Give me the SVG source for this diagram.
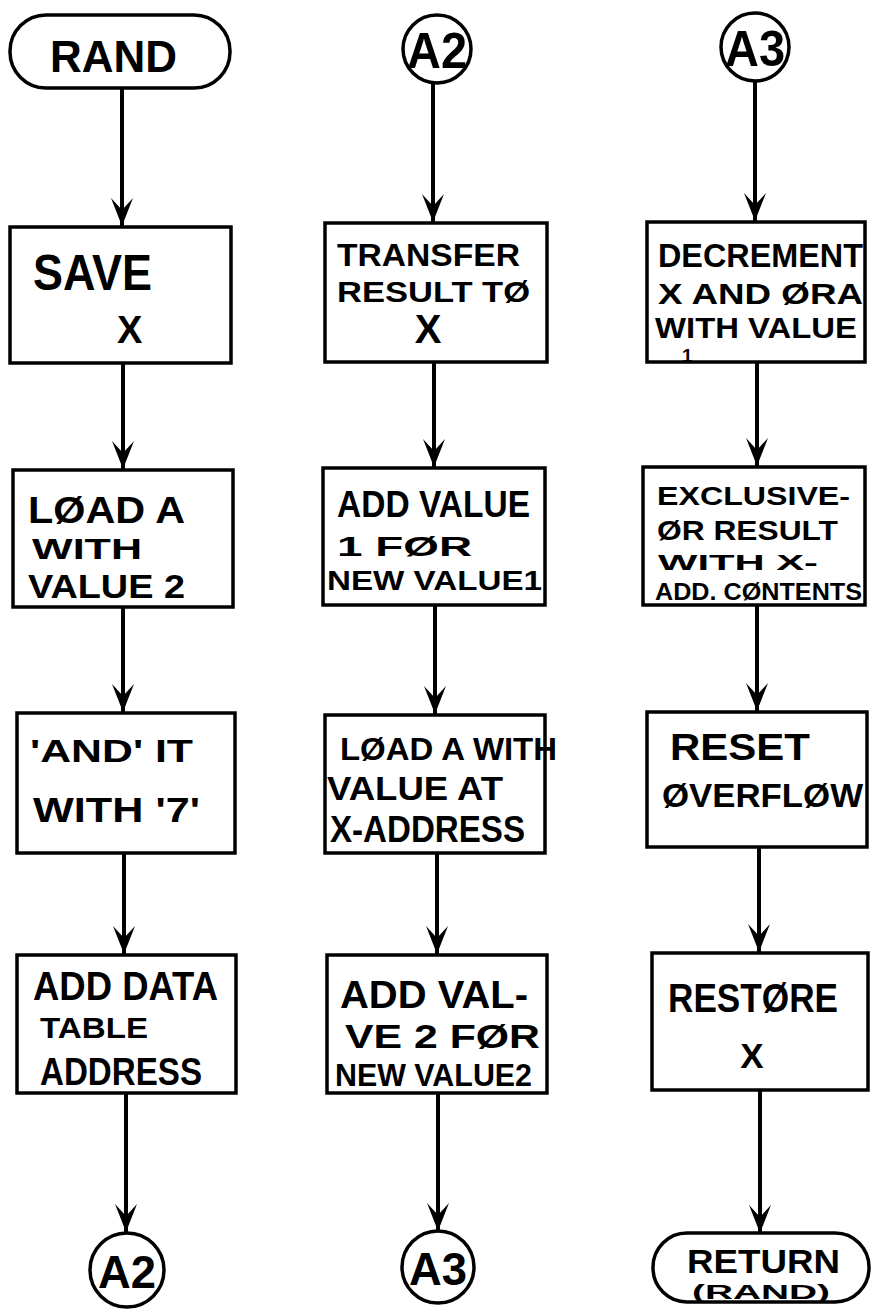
<svg xmlns="http://www.w3.org/2000/svg" width="872" height="1311" viewBox="0 0 872 1311">
<style>
  .box{fill:#fff;stroke:#000;stroke-width:3.5}
  .line{stroke:#000;stroke-width:4;fill:none}
  .t{font-family:"Liberation Sans",Arial,sans-serif;font-weight:bold;fill:#000}
  .c{text-anchor:middle}
</style>
<defs>
  <marker id="arr" markerUnits="userSpaceOnUse" markerWidth="32" markerHeight="26" viewBox="-30 -13 32 26" refX="0" refY="0" orient="auto" overflow="visible">
    <path d="M-28,-11 L0,0 L-28,11 L-16,0 Z" fill="#000"/>
  </marker>
</defs>
<rect width="872" height="1311" fill="#fff"/>
<g id="connectors">
  <line class="line" x1="122" y1="88" x2="122" y2="226" marker-end="url(#arr)"/>
  <line class="line" x1="123" y1="363" x2="123" y2="469" marker-end="url(#arr)"/>
  <line class="line" x1="123" y1="607" x2="123" y2="712" marker-end="url(#arr)"/>
  <line class="line" x1="124" y1="853" x2="124" y2="954" marker-end="url(#arr)"/>
  <line class="line" x1="126" y1="1093" x2="126" y2="1232" marker-end="url(#arr)"/>
  <line class="line" x1="433" y1="82" x2="433" y2="222" marker-end="url(#arr)"/>
  <line class="line" x1="434" y1="362" x2="434" y2="467" marker-end="url(#arr)"/>
  <line class="line" x1="435" y1="605" x2="435" y2="714" marker-end="url(#arr)"/>
  <line class="line" x1="437" y1="853" x2="437" y2="954" marker-end="url(#arr)"/>
  <line class="line" x1="438" y1="1093" x2="438" y2="1231" marker-end="url(#arr)"/>
  <line class="line" x1="755" y1="80" x2="755" y2="221" marker-end="url(#arr)"/>
  <line class="line" x1="757" y1="362" x2="757" y2="466" marker-end="url(#arr)"/>
  <line class="line" x1="757" y1="605" x2="757" y2="711" marker-end="url(#arr)"/>
  <line class="line" x1="759" y1="847" x2="759" y2="952" marker-end="url(#arr)"/>
  <line class="line" x1="760" y1="1090" x2="760" y2="1233" marker-end="url(#arr)"/>
</g>
<g id="rand">
  <rect class="box" x="10" y="15" width="220" height="73" rx="36" ry="36"/>
  <text class="t" x="50" y="72" font-size="44" textLength="127" lengthAdjust="spacingAndGlyphs">RAND</text>
</g>
<g id="save-x">
  <rect class="box" x="10" y="227" width="221" height="136"/>
  <text class="t" x="33" y="290" font-size="50" textLength="119" lengthAdjust="spacingAndGlyphs">SAVE</text>
  <text class="t" x="117" y="343" font-size="38">X</text>
</g>
<g id="load-a">
  <rect class="box" x="13" y="470" width="220" height="137"/>
  <text class="t" x="28" y="523" font-size="36" textLength="157" lengthAdjust="spacingAndGlyphs">LØAD A</text>
  <text class="t" x="32" y="559" font-size="30" textLength="110" lengthAdjust="spacingAndGlyphs">WITH</text>
  <text class="t" x="28" y="598" font-size="33" textLength="157" lengthAdjust="spacingAndGlyphs">VALUE 2</text>
</g>
<g id="and-7">
  <rect class="box" x="17" y="713" width="218" height="140"/>
  <text class="t" x="30" y="762" font-size="31" textLength="163" lengthAdjust="spacingAndGlyphs">'AND' IT</text>
  <text class="t" x="33" y="822" font-size="35" textLength="167" lengthAdjust="spacingAndGlyphs">WITH '7'</text>
</g>
<g id="add-data">
  <rect class="box" x="17" y="955" width="219" height="138"/>
  <text class="t" x="33" y="1000" font-size="40" textLength="185" lengthAdjust="spacingAndGlyphs">ADD DATA</text>
  <text class="t" x="40" y="1038" font-size="30" textLength="108" lengthAdjust="spacingAndGlyphs">TABLE</text>
  <text class="t" x="40" y="1085" font-size="39" textLength="162" lengthAdjust="spacingAndGlyphs">ADDRESS</text>
</g>
<g id="a2-out">
  <circle class="box" cx="127" cy="1270" r="37"/>
  <text class="t c" x="127" y="1288" font-size="46" textLength="58" lengthAdjust="spacingAndGlyphs">A2</text>
</g>
<g id="a2-in">
  <circle class="box" cx="437" cy="49" r="34"/>
  <text class="t c" x="437" y="68" font-size="50" textLength="60" lengthAdjust="spacingAndGlyphs">A2</text>
</g>
<g id="transfer">
  <rect class="box" x="325" y="223" width="222" height="139"/>
  <text class="t" x="337" y="266" font-size="32" textLength="183" lengthAdjust="spacingAndGlyphs">TRANSFER</text>
  <text class="t" x="337" y="302" font-size="30" textLength="193" lengthAdjust="spacingAndGlyphs">RESULT TØ</text>
  <text class="t c" x="428" y="343" font-size="40">X</text>
</g>
<g id="add-value1">
  <rect class="box" x="323" y="468" width="222" height="137"/>
  <text class="t" x="337" y="517" font-size="37" textLength="193" lengthAdjust="spacingAndGlyphs">ADD VALUE</text>
  <text class="t" x="337" y="556" font-size="27" textLength="135" lengthAdjust="spacingAndGlyphs">1 FØR</text>
  <text class="t" x="327" y="590" font-size="27" textLength="215" lengthAdjust="spacingAndGlyphs">NEW VALUE1</text>
</g>
<g id="load-x-address">
  <rect class="box" x="325" y="715" width="220" height="138"/>
  <text class="t" x="340" y="760" font-size="32" textLength="217" lengthAdjust="spacingAndGlyphs">LØAD A WITH</text>
  <text class="t" x="327" y="800" font-size="34" textLength="176" lengthAdjust="spacingAndGlyphs">VALUE AT</text>
  <text class="t" x="330" y="842" font-size="36" textLength="195" lengthAdjust="spacingAndGlyphs">X-ADDRESS</text>
</g>
<g id="add-value2">
  <rect class="box" x="327" y="955" width="220" height="138"/>
  <text class="t" x="340" y="1008" font-size="38" textLength="188" lengthAdjust="spacingAndGlyphs">ADD VAL-</text>
  <text class="t" x="345" y="1048" font-size="33" textLength="195" lengthAdjust="spacingAndGlyphs">VE 2 FØR</text>
  <text class="t" x="335" y="1086" font-size="32" textLength="197" lengthAdjust="spacingAndGlyphs">NEW VALUE2</text>
</g>
<g id="a3-out">
  <circle class="box" cx="438" cy="1267" r="36"/>
  <text class="t c" x="438" y="1285" font-size="46" textLength="58" lengthAdjust="spacingAndGlyphs">A3</text>
</g>
<g id="a3-in">
  <circle class="box" cx="755" cy="47" r="34"/>
  <text class="t c" x="755" y="66" font-size="50" textLength="60" lengthAdjust="spacingAndGlyphs">A3</text>
</g>
<g id="decrement">
  <rect class="box" x="647" y="222" width="218" height="140"/>
  <text class="t" x="658" y="267" font-size="33" textLength="205" lengthAdjust="spacingAndGlyphs">DECREMENT</text>
  <text class="t" x="658" y="304" font-size="29" textLength="205" lengthAdjust="spacingAndGlyphs">X AND ØRA</text>
  <text class="t" x="655" y="338" font-size="29" textLength="202" lengthAdjust="spacingAndGlyphs">WITH VALUE</text>
  <text class="t" x="682" y="362" font-size="19">1</text>
</g>
<g id="exclusive-or">
  <rect class="box" x="643" y="467" width="222" height="138"/>
  <text class="t" x="657" y="505" font-size="26" textLength="193" lengthAdjust="spacingAndGlyphs">EXCLUSIVE-</text>
  <text class="t" x="657" y="540" font-size="28" textLength="181" lengthAdjust="spacingAndGlyphs">ØR RESULT</text>
  <text class="t" x="658" y="570" font-size="22" textLength="160" lengthAdjust="spacingAndGlyphs">WITH X-</text>
  <text class="t" x="655" y="600" font-size="24" textLength="207" lengthAdjust="spacingAndGlyphs">ADD. CØNTENTS</text>
</g>
<g id="reset-overflow">
  <rect class="box" x="647" y="712" width="220" height="135"/>
  <text class="t" x="670" y="760" font-size="37" textLength="140" lengthAdjust="spacingAndGlyphs">RESET</text>
  <text class="t" x="662" y="807" font-size="33" textLength="201" lengthAdjust="spacingAndGlyphs">ØVERFLØW</text>
</g>
<g id="restore-x">
  <rect class="box" x="652" y="953" width="216" height="137"/>
  <text class="t" x="668" y="1012" font-size="41" textLength="170" lengthAdjust="spacingAndGlyphs">RESTØRE</text>
  <text class="t c" x="752" y="1068" font-size="35">X</text>
</g>
<g id="return-rand">
  <rect class="box" x="653" y="1233" width="216" height="69" rx="34" ry="34"/>
  <text class="t" x="687" y="1273" font-size="34" textLength="153" lengthAdjust="spacingAndGlyphs">RETURN</text>
  <text class="t" x="692" y="1299" font-size="21" textLength="138" lengthAdjust="spacingAndGlyphs">(RAND)</text>
</g>
</svg>
